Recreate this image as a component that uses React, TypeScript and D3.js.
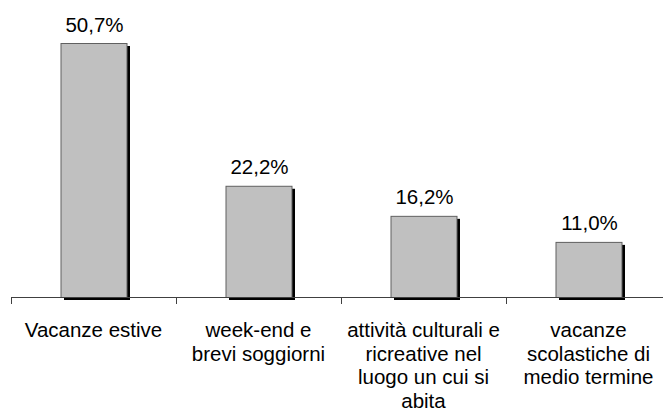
import React from "react";
import * as d3 from "d3";

const categories: string[] = [
  "Vacanze estive",
  "week-end e brevi soggiorni",
  "attività culturali e ricreative nel luogo un cui si abita",
  "vacanze scolastiche di medio termine",
];
const categoryLines: string[][] = [
  ["Vacanze estive"],
  ["week-end e", "brevi soggiorni"],
  ["attività culturali e", "ricreative nel", "luogo un cui si", "abita"],
  ["vacanze", "scolastiche di", "medio termine"],
];
const values: number[] = [50.7, 22.2, 16.2, 11.0];

const W = 663;
const H = 419;
const FONT = "'Liberation Sans', Arial, sans-serif";

export default function App() {
  const baseY = 297;
  const x = d3.scaleBand<string>().domain(categories).range([11, 671]).paddingInner(0.6).paddingOuter(0.3);
  const band = d3.scaleBand<string>().domain(categories).range([11, 671]);
  const y = d3.scaleLinear().domain([0, 50.7]).range([baseY, 43]);
  const fmt = (v: number) => v.toFixed(1).replace(".", ",") + "%";
  const ticks = [...categories.map((c) => band(c)!), 671];

  return (
    <svg width={W} height={H} style={{ position: "absolute", left: 0, top: 0, background: "#fff" }}>
      {categories.map((c, i) => {
        const bx = x(c)!;
        const bw = x.bandwidth();
        const top = y(values[i]);
        return (
          <g key={c}>
            <rect x={bx + 3.5} y={top + 3} width={bw} height={baseY - top} fill="#000" />
            <rect x={bx + 0.5} y={top + 0.5} width={bw} height={baseY - top} fill="#c0c0c0" stroke="#606060" strokeWidth={1} />
            <text x={bx + bw / 2 + 1} y={top - 11.5} textAnchor="middle" fontFamily={FONT} fontSize={20.5} fill="#000">
              {fmt(values[i])}
            </text>
          </g>
        );
      })}
      <line x1={11} x2={663} y1={baseY + 0.5} y2={baseY + 0.5} stroke="#404040" strokeWidth={1} />
      {ticks.map((t, i) => (
        <line key={i} x1={t + 0.5} x2={t + 0.5} y1={baseY} y2={baseY + 7} stroke="#404040" strokeWidth={1} />
      ))}
      {categories.map((c, i) => {
        const cx = band(c)! + band.bandwidth() / 2;
        return (
          <text key={c} textAnchor="middle" fontFamily={FONT} fontSize={20.5} fill="#000">
            {categoryLines[i].map((l, j) => (
              <tspan key={j} x={cx} y={337 + j * 23.5}>
                {l}
              </tspan>
            ))}
          </text>
        );
      })}
    </svg>
  );
}
